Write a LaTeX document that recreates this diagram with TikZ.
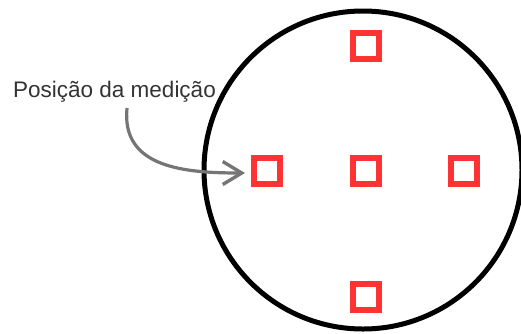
\documentclass[tikz,border=0pt]{standalone}
\usepackage{fontspec}
\setmainfont{Liberation Sans}
\usetikzlibrary{arrows.meta}
\definecolor{sqred}{HTML}{FF3333}
\definecolor{txtgray}{HTML}{333333}
\definecolor{arrgray}{HTML}{757575}
\begin{document}
\begin{tikzpicture}[x=1pt,y=-1pt,
  mark box/.style={draw=sqred,line width=6pt,minimum size=26pt,inner sep=0pt,outer sep=0pt},
  rim/.style={draw=black,line width=5pt},
  pointer/.style={draw=arrgray,line width=3.2pt,-{Straight Barb[length=19pt,width=23pt,line width=3.4pt]}}]
\useasboundingbox (0,0) rectangle (521,333);
\draw[rim] (363,170) circle[radius=159];
\node[mark box] (sqT) at (366,46) {};
\node[mark box] (sqL) at (267,171) {};
\node[mark box] (sqC) at (366,171) {};
\node[mark box] (sqR) at (464,171) {};
\node[mark box] (sqB) at (366,297) {};
\node[anchor=base west,inner sep=0pt,text=txtgray,font=\fontsize{22.5}{26}\selectfont] (lbl) at (13,97) {Posição da medição};
\coordinate (start) at (127,108);
\coordinate (tip) at (245,173);
\draw[pointer] (start) .. controls (121,168) and (185,173) .. (tip);
\end{tikzpicture}
\end{document}
